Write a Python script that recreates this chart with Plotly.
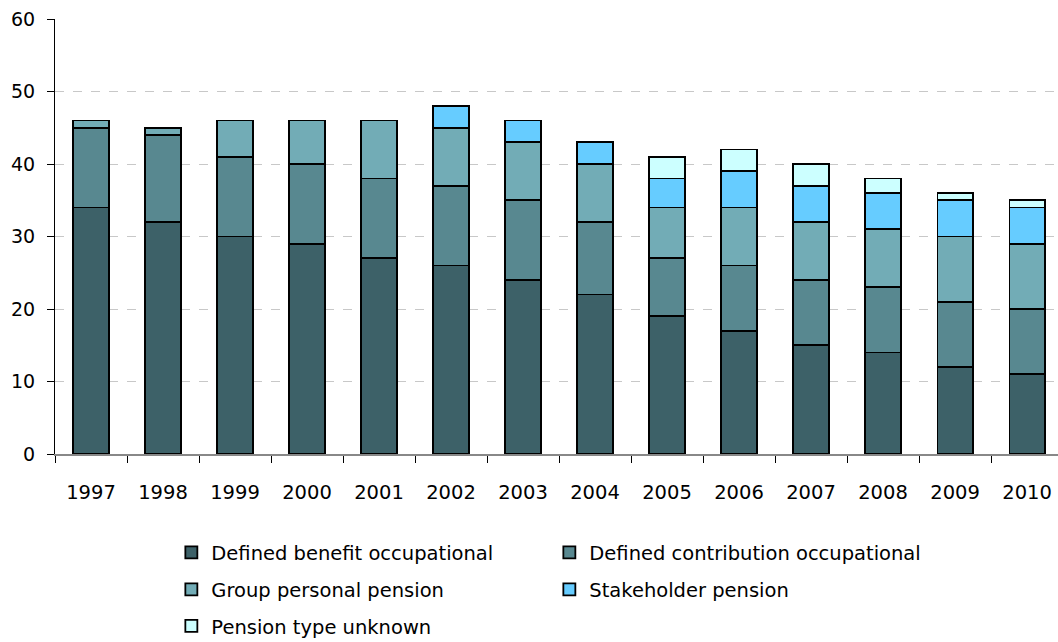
import plotly.graph_objects as go

years = ["1997", "1998", "1999", "2000", "2001", "2002", "2003",
         "2004", "2005", "2006", "2007", "2008", "2009", "2010"]
defined_benefit = [34, 32, 30, 29, 27, 26, 24, 22, 19, 17, 15, 14, 12, 11]
defined_contribution = [11, 12, 11, 11, 11, 11, 11, 10, 8, 9, 9, 9, 9, 9]
group_personal = [1, 1, 5, 6, 8, 8, 8, 8, 7, 8, 8, 8, 9, 9]
stakeholder = [None, None, None, None, None, 3, 3, 3, 4, 5, 5, 5, 5, 5]
unknown = [None, None, None, None, None, None, None, None, 3, 3, 3, 2, 1, 1]

series = [
    ("Defined benefit occupational", defined_benefit, "#3D6168", "legend"),
    ("Defined contribution occupational", defined_contribution, "#588890", "legend"),
    ("Group personal pension", group_personal, "#72ACB6", "legend2"),
    ("Stakeholder pension", stakeholder, "#66CCFF", "legend2"),
    ("Pension type unknown", unknown, "#CCFFFF", "legend3"),
]

FONT = "DejaVu Sans"
fig = go.Figure()
for name, vals, color, lg in series:
    fig.add_trace(go.Bar(
        x=years, y=vals, name=name, legend=lg,
        marker=dict(color=color, line=dict(color="#000000", width=1.8)),
        width=0.49,
    ))

legend_common = dict(
    orientation="h", xanchor="left", yanchor="middle", traceorder="normal",
    entrywidth=333, entrywidthmode="pixels",
    font=dict(family=FONT, size=19.5, color="#000000"),
    bgcolor="rgba(0,0,0,0)", itemclick=False, itemdoubleclick=False,
)

fig.update_layout(
    width=1058, height=642,
    margin=dict(l=55, r=0, t=19, b=188, autoexpand=False),
    plot_bgcolor="#ffffff", paper_bgcolor="#ffffff",
    barmode="stack", bargap=0.5,
    font=dict(family=FONT, size=19, color="#000000"),
    xaxis=dict(
        type="category", range=[-0.5, 13.43],
        showline=True, linecolor="#888888", linewidth=2,
        ticks="outside", tickson="boundaries", ticklen=7, tickcolor="#000000",
        tickwidth=1, ticklabelstandoff=20,
        tickfont=dict(family=FONT, size=19.5, color="#000000"),
        showgrid=False,
    ),
    yaxis=dict(
        range=[0, 60], dtick=10,
        showline=True, linecolor="#000000", linewidth=1,
        ticks="outside", ticklen=7, tickcolor="#000000",
        ticklabelstandoff=8,
        tickfont=dict(family=FONT, size=19, color="#000000"),
        showgrid=True, gridcolor="#c8c8c8", griddash="dash", gridwidth=1,
        zeroline=False,
    ),
    legend=dict(x=0.116, y=-0.227, **legend_common),
    legend2=dict(x=0.116, y=-0.312, **legend_common),
    legend3=dict(x=0.116, y=-0.396, **legend_common),
)

fig.write_html("out.html")
